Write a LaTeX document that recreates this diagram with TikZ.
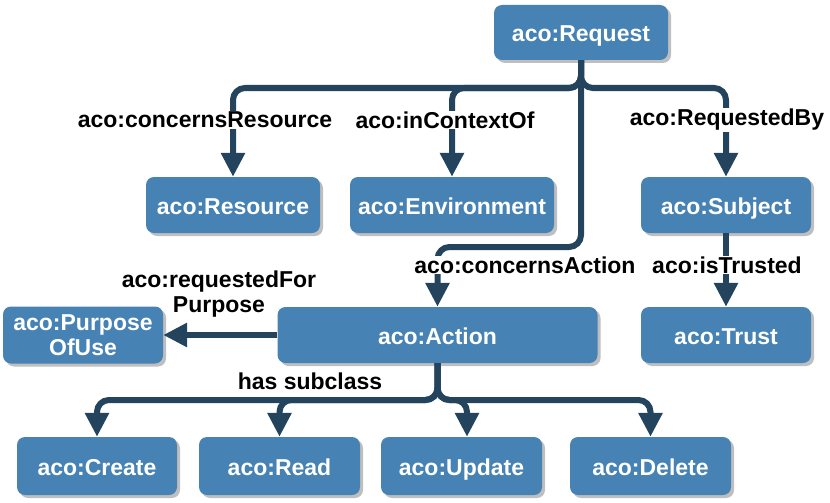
\documentclass[tikz,border=0pt]{standalone}
\usepackage{fontspec}
\setmainfont{Liberation Sans}
\usetikzlibrary{arrows.meta,shadows}
\definecolor{boxblue}{HTML}{4682B4}
\definecolor{linecol}{HTML}{24445E}
\begin{document}
\begin{tikzpicture}[x=1pt,y=-1pt,
  box/.style={rounded corners=8pt, fill=boxblue, text=white,
    font=\fontsize{23}{25}\selectfont\bfseries, align=center, inner sep=0pt,
    drop shadow={shadow xshift=3pt,shadow yshift=-3pt,fill=black!25,opacity=1}},
  oneline/.style={text height=19pt, text depth=0pt},
  conn/.style={draw=linecol, line width=6pt, rounded corners=12pt,
    -{Triangle[width=23pt,length=24pt]}},
  lab/.style={fill=white, inner sep=1pt,
    font=\fontsize{23}{25}\selectfont\bfseries, align=center}]
\useasboundingbox (0,0) rectangle (830,503);
% nodes
\node[box, oneline, minimum width=174pt, minimum height=55pt] (req) at (581,32.5) {aco:Request};
\node[box, oneline, minimum width=174pt, minimum height=56pt] (res) at (233,205) {aco:Resource};
\node[box, oneline, minimum width=204pt, minimum height=56pt] (env) at (452,205) {aco:Environment};
\node[box, oneline, minimum width=170pt, minimum height=56pt] (sub) at (726,205) {aco:Subject};
\node[box, oneline, minimum width=320pt, minimum height=56pt] (act) at (437.5,335) {aco:Action};
\node[box, oneline, minimum width=170pt, minimum height=56pt] (tru) at (726,335) {aco:Trust};
\node[box, minimum width=160pt, minimum height=57pt] (pur) at (83,335) {aco:Purpose\\OfUse};
\node[box, oneline, minimum width=160pt, minimum height=58pt] (cre) at (97,466) {aco:Create};
\node[box, oneline, minimum width=161pt, minimum height=58pt] (rea) at (279.5,466) {aco:Read};
\node[box, oneline, minimum width=161pt, minimum height=58pt] (upd) at (461.5,466) {aco:Update};
\node[box, oneline, minimum width=161pt, minimum height=58pt] (del) at (650.5,466) {aco:Delete};
% helper coordinates
\coordinate (busT) at (0,88);
\coordinate (busA) at (0,247);
\coordinate (busB) at (0,400);
\coordinate (updx) at (467,0);
% connectors
\draw[conn] (req.south) |- (res.north |- busT) -- (res.north);
\draw[conn] (req.south) |- (env.north |- busT) -- (env.north);
\draw[conn] (req.south) |- (sub.north |- busT) -- (sub.north);
\draw[conn] (req.south) -- (req.south |- busA) -- (act.north |- busA) -- (act.north);
\draw[conn] (sub.south) -- (tru.north);
\draw[conn] (act.west) -- (pur.east);
\draw[conn] (act.south) |- (cre.north |- busB) -- (cre.north);
\draw[conn] (act.south) |- (rea.north |- busB) -- (rea.north);
\draw[conn] (act.south) |- (updx |- busB) -- (upd.north -| updx);
\draw[conn] (act.south) |- (del.north |- busB) -- (del.north);
% labels
\node[lab] (lres) at (205,120) {aco:concernsResource};
\node[lab] (lenv) at (445,120) {aco:inContextOf};
\node[lab] (lsub) at (727,120) {aco:RequestedBy};
\node[lab] (lact) at (525,265) {aco:concernsAction};
\node[lab] (ltru) at (727,265) {aco:isTrusted};
\node[lab, fill=none] (lpur) at (219,294.5) {aco:requestedFor\\Purpose};
\node[lab] (lsubc) at (310,381) {has subclass};
\end{tikzpicture}
\end{document}
